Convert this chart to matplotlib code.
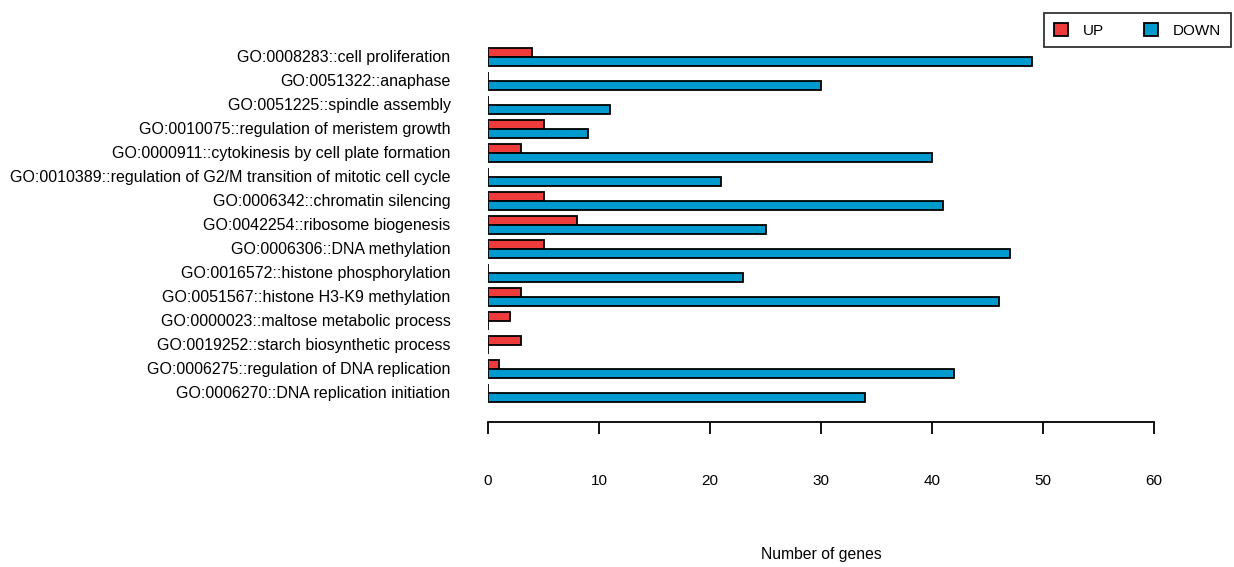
import numpy as np
import matplotlib
matplotlib.use("Agg")
import matplotlib.pyplot as plt

# GO terms, top to bottom as shown
terms = [
    "GO:0008283::cell proliferation",
    "GO:0051322::anaphase",
    "GO:0051225::spindle assembly",
    "GO:0010075::regulation of meristem growth",
    "GO:0000911::cytokinesis by cell plate formation",
    "GO:0010389::regulation of G2/M transition of mitotic cell cycle",
    "GO:0006342::chromatin silencing",
    "GO:0042254::ribosome biogenesis",
    "GO:0006306::DNA methylation",
    "GO:0016572::histone phosphorylation",
    "GO:0051567::histone H3-K9 methylation",
    "GO:0000023::maltose metabolic process",
    "GO:0019252::starch biosynthetic process",
    "GO:0006275::regulation of DNA replication",
    "GO:0006270::DNA replication initiation",
]
up_counts = [4, 0, 0, 5, 3, 0, 5, 8, 5, 0, 3, 2, 3, 1, 0]
down_counts = [49, 30, 11, 9, 40, 21, 41, 25, 47, 23, 46, 0, 0, 42, 34]
x_ticks = [0, 10, 20, 30, 40, 50, 60]

up_col = "#EE3B3B"
down_col = "#009ACD"

plt.rcParams['font.family'] = ['Liberation Sans', 'DejaVu Sans']

fig = plt.figure(figsize=(12.34, 5.67), dpi=100)
W, H = 1234, 567
ax = fig.add_axes([488 / W, 1 - 405 / H, (1154 - 488) / W, 360 / H])

n = len(terms)
y = np.arange(n)[::-1].astype(float)
bh = 0.36
ax.barh(y + bh / 2, up_counts, height=bh, color=up_col, edgecolor="black",
        linewidth=1.3, label="UP")
ax.barh(y - bh / 2, down_counts, height=bh, color=down_col, edgecolor="black",
        linewidth=1.3, label="DOWN")

ax.set_xlim(0, 60)
ax.set_ylim(-0.5, n - 0.5)

for s in ["top", "right", "left"]:
    ax.spines[s].set_visible(False)
ax.spines["bottom"].set_position(("outward", 12))
ax.spines["bottom"].set_linewidth(1.3)
ax.set_xticks(x_ticks)
ax.tick_params(axis="x", length=8.5, width=1.3, pad=29, labelsize=11)
ax.set_yticks(y + 0.04)
ax.set_yticklabels(terms, fontsize=11.5)
ax.tick_params(axis="y", length=0, pad=27)

ax.set_xlabel("Number of genes", fontsize=11.3)
ax.xaxis.set_label_coords(0.5, -(547 - 405) / 360)

leg = ax.legend(loc="upper right", bbox_to_anchor=(1231 / W, 1 - 13 / H),
                bbox_transform=fig.transFigure, ncol=2, frameon=True,
                fancybox=False, edgecolor="black", fontsize=11,
                handlelength=0.9, handleheight=0.9, columnspacing=2.6,
                borderpad=0.65, handletextpad=1.0, borderaxespad=0)
leg.get_frame().set_linewidth(1.3)

fig.savefig("out.png", dpi=100)
